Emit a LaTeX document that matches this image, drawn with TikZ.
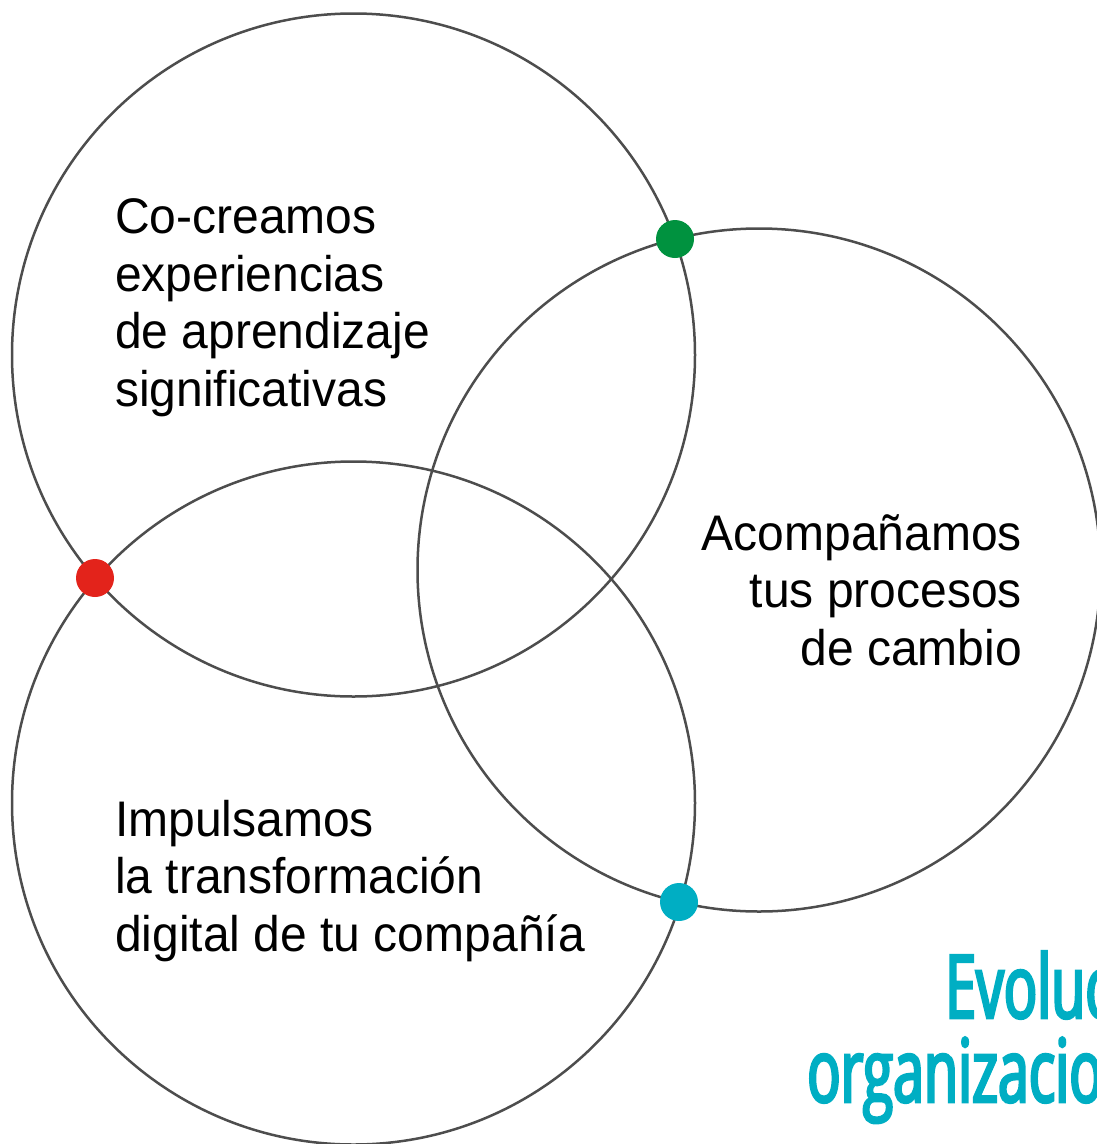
\documentclass[tikz,border=0pt]{standalone}
\usepackage{fontspec}
\setmainfont{Liberation Sans}[FakeStretch=0.96]
\newfontfamily\headfont{Open Sans}[FakeStretch=0.63, FakeBold=3]

\definecolor{ringgray}{HTML}{4D4D4D}
\definecolor{dotgreen}{HTML}{00923F}
\definecolor{dotred}{HTML}{E3231B}
\definecolor{dotcyan}{HTML}{00AEC3}

\tikzset{
	ring/.style={draw=ringgray, line width=2.5pt},
	dot/.style={circle, fill=#1, minimum size=38pt, inner sep=0pt},
	blurb/.style={font=\fontsize{50}{57.5}\selectfont, inner sep=0pt},
	headline/.style={font=\headfont\fontsize{88}{88}\selectfont, text=dotcyan, inner sep=0pt, anchor=base west}
}

\begin{document}
\begin{tikzpicture}[x=1pt, y=-1pt]
			\useasboundingbox (0,0) rectangle (1097,1144);
			
			\draw[ring] (353.5,355) circle (341.5);		% top circle
			\draw[ring] (353.5,803) circle (341.5);		% bottom circle
			\draw[ring] (759,570) circle (341.5);		% right circle
			
			% dots where the circles cross
			\node[dot=dotgreen] (gdot) at (675,239) {};
			\node[dot=dotred] (rdot) at (95,578) {};
			\node[dot=dotcyan] (cdot) at (679,902) {};
			
			% texts inside the circles (anchored on the last line)
			\node[blurb, anchor=base west, align=left] (cocrea) at (115,406)
				{Co-creamos\\experiencias\\de aprendizaje\\significativas};
			\node[blurb, anchor=base east, align=right] (acomp) at (1022,665)
				{Acompañamos\\tus procesos\\de cambio};
			\node[blurb, anchor=base west, align=left] (impul) at (115,951)
				{Impulsamos\\la transformación\\digital de tu compañía};
			
			% title, cut at the right edge
			\node[headline] (evol) at (945,1018) {Evolución};
			\node[headline] (orga) at (807,1102) {organizacional};
\end{tikzpicture}
\end{document}
